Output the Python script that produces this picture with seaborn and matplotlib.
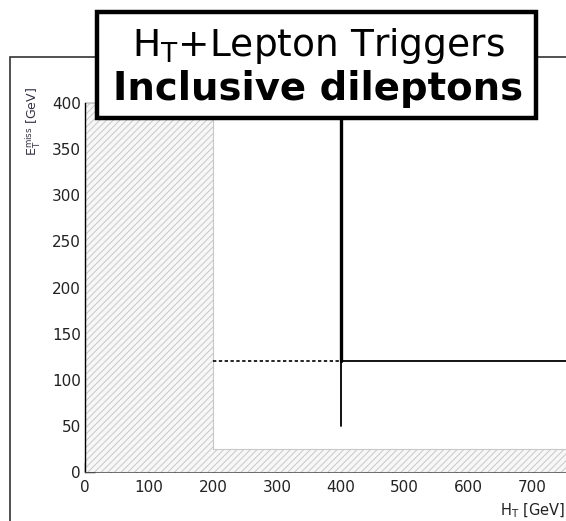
import matplotlib
matplotlib.use("Agg")
import matplotlib.pyplot as plt
import matplotlib.patches as mpatches
from matplotlib.ticker import MultipleLocator
import pandas as pd
import seaborn as sns

# axis ranges and cut values (GeV)
ht_range = [0, 760]
met_range = [0, 400]
ht_veto = 200      # hatched region below this HT
met_veto = 25      # hatched region below this MET
ht_cut = 400
met_cut = 120
met_low = 50       # lower end of the HT cut line

sns.set_theme(style="white")
plt.rcParams["font.family"] = ["DejaVu Sans"]
plt.rcParams["hatch.color"] = "#c8c8c8"
plt.rcParams["hatch.linewidth"] = 0.7

fig = plt.figure(figsize=(5.66, 5.21), dpi=100)
ax = fig.add_axes([85 / 566, 49 / 521, 486 / 566, 369 / 521])

#Hatched excluded region (L shape)
veto_x = [ht_range[0], ht_range[1], ht_range[1], ht_veto, ht_veto, ht_range[0]]
veto_y = [met_range[0], met_range[0], met_veto, met_veto, met_range[1], met_range[1]]
ax.fill(veto_x, veto_y, facecolor="#f7f7f7", edgecolor="#c8c8c8",
        hatch="/////", linewidth=0.8, zorder=1)

#Cut lines
dashed = pd.DataFrame({"ht": [ht_veto, ht_cut], "met": [met_cut, met_cut]})
horiz = pd.DataFrame({"ht": [ht_cut, ht_range[1]], "met": [met_cut, met_cut]})
vert_low = pd.DataFrame({"ht": [ht_cut, ht_cut], "met": [met_low, met_cut]})
vert_high = pd.DataFrame({"ht": [ht_cut, ht_cut], "met": [met_cut, met_range[1]]})

sns.lineplot(data=dashed, x="ht", y="met", ax=ax, color="black", linewidth=1.2,
             linestyle=(0, (2, 1.5)), estimator=None, sort=False, zorder=3)
sns.lineplot(data=horiz, x="ht", y="met", ax=ax, color="black", linewidth=1.3,
             estimator=None, sort=False, zorder=3)
sns.lineplot(data=vert_low, x="ht", y="met", ax=ax, color="black", linewidth=1.3,
             estimator=None, sort=False, zorder=3)
sns.lineplot(data=vert_high, x="ht", y="met", ax=ax, color="black", linewidth=2.4,
             estimator=None, sort=False, zorder=3)

#Axes styling
ax.set_xlim(ht_range)
ax.set_ylim(met_range)
ax.set_facecolor("white")
ax.spines["top"].set_visible(False)
ax.spines["right"].set_visible(False)
ax.spines["left"].set_color("black")
ax.spines["bottom"].set_color("#555555")
ax.spines["left"].set_linewidth(1.0)
ax.spines["bottom"].set_linewidth(0.6)
ax.xaxis.set_major_locator(MultipleLocator(100))
ax.xaxis.set_minor_locator(MultipleLocator(20))
ax.yaxis.set_major_locator(MultipleLocator(50))
ax.yaxis.set_minor_locator(MultipleLocator(10))
ax.tick_params(which="both", direction="in", colors="#222222", labelsize=11,
               left=True, bottom=True, top=False, right=False)
ax.tick_params(which="major", length=7, width=1)
ax.tick_params(which="minor", length=3.5, width=0.8)
ax.tick_params(axis="x", pad=6)
ax.tick_params(axis="y", pad=3)
ax.set_xlabel("")
ax.set_ylabel("")

fig.text(33 / 566, 1 - 87 / 521, r"E$_\mathregular{T}^\mathregular{miss}$ [GeV]",
         rotation=90, ha="center", va="top", fontsize=9, color="#333344")
fig.text(565 / 566, 1 - 511 / 521, r"H$_\mathregular{T}$ [GeV]",
         ha="right", va="center", fontsize=10.5, color="#222222")

#Outer frame (cropped)
frame = mpatches.Rectangle((10 / 566, -0.1), 1.2, 1.1 - 57 / 521,
                           transform=fig.transFigure, fill=False,
                           edgecolor="#333333", linewidth=1.2)
fig.patches.append(frame)

#Title box
box = mpatches.Rectangle((97 / 566, 1 - 118 / 521), 439 / 566, 106 / 521,
                         transform=fig.transFigure, facecolor="white",
                         edgecolor="black", linewidth=3.2, zorder=5)
fig.patches.append(box)
fig.text(318 / 566, 1 - 46 / 521, r"H$_\mathregular{T}$+Lepton Triggers",
         ha="center", va="center", fontsize=27, color="black", zorder=6)
fig.text(318 / 566, 1 - 89 / 521, "Inclusive dileptons",
         ha="center", va="center", fontsize=27.8, fontweight="bold",
         color="black", zorder=6)

plt.savefig("out.png", dpi=100)
